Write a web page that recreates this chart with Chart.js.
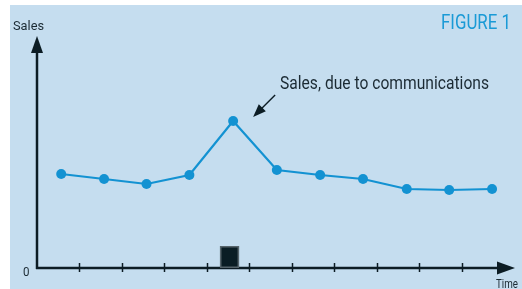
<!DOCTYPE html>
<html>
<head>
<meta charset="utf-8">
<script src="https://cdn.jsdelivr.net/npm/chart.js@4.4.1/dist/chart.umd.min.js"></script>
<style>
  html, body { margin:0; padding:0; background:#fff; overflow:hidden; }
  #wrap { position:relative; width:522px; height:289px; }
</style>
</head>
<body>
<div id="wrap"><canvas id="salesChart" width="522" height="289"></canvas></div>
<script>
// ---------- Data ----------
const timePoints = [0.57, 1.58, 2.58, 3.59, 4.62, 5.65, 6.67, 7.68, 8.71, 9.71, 10.72];
const salesValues = [94, 89, 84, 93, 147, 98, 93, 89, 79, 78, 79];
const timeTicks = [1, 2, 3, 4, 5, 6, 7, 8, 9, 10];
const campaignSpan = [4.31, 4.76];   // the communication burst (black square)
const campaignLevel = 22;
const peakIndex = 4;

const BLUE = '#1392d2';
const INK = '#1b2a33';
const AXIS = '#0c1c24';

// draw text squeezed to a target width (condensed face look)
function label(ctx, s, x, y, size, w, color){
  ctx.save();
  ctx.font = size + 'px Roboto';
  const k = w / ctx.measureText(s).width;
  ctx.translate(x, y);
  ctx.scale(k, 1);
  ctx.fillStyle = color;
  ctx.textAlign = 'left';
  ctx.textBaseline = 'alphabetic';
  ctx.fillText(s, 0, 0);
  ctx.restore();
}

function arrowHead(ctx, tipX, tipY, dx, dy, len, half){
  const n = Math.hypot(dx, dy), ux = dx/n, uy = dy/n;
  const bx = tipX - ux*len, by = tipY - uy*len;
  ctx.beginPath();
  ctx.moveTo(tipX, tipY);
  ctx.lineTo(bx - uy*half, by + ux*half);
  ctx.lineTo(bx + uy*half, by - ux*half);
  ctx.closePath();
  ctx.fill();
}

const figurePlugin = {
  id: 'figure',
  beforeDraw(chart){
    const ctx = chart.ctx;
    ctx.save();
    ctx.fillStyle = '#ffffff';
    ctx.fillRect(0, 0, chart.width, chart.height);
    ctx.fillStyle = '#c5ddef';
    ctx.fillRect(10, 5, chart.width - 10, chart.height - 5);
    ctx.restore();
  },
  beforeDatasetsDraw(chart){
    const ctx = chart.ctx, xs = chart.scales.x, ys = chart.scales.y;
    const x0 = xs.getPixelForValue(0), y0 = ys.getPixelForValue(0);
    const xEnd = xs.right, yTop = ys.top;
    ctx.save();
    ctx.strokeStyle = AXIS;
    ctx.fillStyle = AXIS;
    ctx.lineWidth = 2.5;
    // y axis
    ctx.beginPath();
    ctx.moveTo(x0, y0 + 1);
    ctx.lineTo(x0, yTop + 12);
    ctx.stroke();
    arrowHead(ctx, x0, yTop, 0, -1, 17, 6);
    // x axis
    ctx.beginPath();
    ctx.moveTo(x0 - 1, y0);
    ctx.lineTo(xEnd - 12, y0);
    ctx.stroke();
    arrowHead(ctx, xEnd, y0, 1, 0, 18, 6.5);
    // ticks
    ctx.lineWidth = 1.5;
    timeTicks.forEach(t => {
      const px = Math.round(xs.getPixelForValue(t)) + 0.5;
      ctx.beginPath();
      ctx.moveTo(px, y0 - 5);
      ctx.lineTo(px, y0 + 4);
      ctx.stroke();
    });
    // campaign square
    const sx = xs.getPixelForValue(campaignSpan[0]);
    const ex = xs.getPixelForValue(campaignSpan[1]);
    const ty = ys.getPixelForValue(campaignLevel);
    ctx.fillStyle = '#0a1d24';
    ctx.fillRect(sx, ty, ex - sx, y0 - ty);
    ctx.strokeStyle = '#56646b';
    ctx.lineWidth = 1.5;
    ctx.strokeRect(sx + 0.75, ty + 0.75, ex - sx - 1.5, y0 - ty - 1.5);
    ctx.restore();
  },
  afterDraw(chart){
    const ctx = chart.ctx, xs = chart.scales.x, ys = chart.scales.y;
    label(ctx, 'Sales', 13, 30, 13.5, 31, INK);
    label(ctx, 'FIGURE 1', 441, 29, 20, 70, '#1a9ad6');
    label(ctx, '0', 23, 275.5, 12.5, 6.5, INK);
    label(ctx, 'Time', 496, 288, 12.5, 22, INK);
    label(ctx, 'Sales, due to communications', 280, 89, 19, 209, INK);
    // pointer to the peak
    const px = xs.getPixelForValue(timePoints[peakIndex]);
    const py = ys.getPixelForValue(salesValues[peakIndex]);
    const tipX = px + 20, tipY = py - 4;
    const tailX = px + 42, tailY = py - 26;
    ctx.save();
    ctx.strokeStyle = AXIS;
    ctx.fillStyle = AXIS;
    ctx.lineWidth = 1.5;
    ctx.beginPath();
    ctx.moveTo(tailX, tailY);
    ctx.lineTo(tipX + 6, tipY - 6);
    ctx.stroke();
    arrowHead(ctx, tipX, tipY, tipX - tailX, tipY - tailY, 13, 5);
    ctx.restore();
  }
};

Chart.defaults.font.family = 'Roboto, sans-serif';

new Chart(document.getElementById('salesChart').getContext('2d'), {
  type: 'line',
  data: {
    datasets: [{
      label: 'Sales',
      data: timePoints.map((t, i) => ({x: t, y: salesValues[i]})),
      borderColor: BLUE,
      backgroundColor: BLUE,
      borderWidth: 2.2,
      pointRadius: 5,
      pointBorderWidth: 0,
      tension: 0,
      clip: false
    }]
  },
  options: {
    responsive: false,
    devicePixelRatio: 1,
    animation: false,
    layout: { autoPadding: false, padding: { left: 37, top: 36, right: 7, bottom: 21 } },
    plugins: { legend: { display: false }, tooltip: { enabled: false } },
    scales: {
      x: { type: 'linear', min: 0, max: 11.26, display: false },
      y: { min: 0, max: 232, display: false }
    }
  },
  plugins: [figurePlugin]
});
</script>
</body>
</html>
